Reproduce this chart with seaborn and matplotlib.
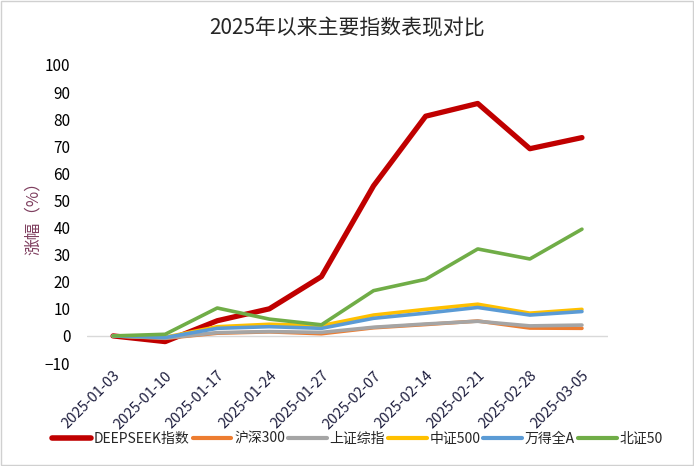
import pandas as pd
import numpy as np
import matplotlib
matplotlib.use('Agg')
import matplotlib.pyplot as plt
import seaborn as sns

# data
dates = ['2025-01-03', '2025-01-10', '2025-01-17', '2025-01-24', '2025-01-27',
         '2025-02-07', '2025-02-14', '2025-02-21', '2025-02-28', '2025-03-05']
deepseek = [0, -2.1, 5.6, 10.0, 21.9, 55.4, 81.1, 85.8, 69.1, 73.2]
hs300 = [0, -0.9, 1.0, 1.5, 0.8, 3.0, 4.2, 5.5, 2.9, 2.8]
szzz = [0, -0.8, 1.2, 1.6, 1.3, 3.2, 4.4, 5.4, 3.7, 4.0]
zz500 = [0, -0.5, 3.4, 4.3, 3.8, 7.7, 9.8, 11.7, 8.4, 9.8]
wdqa = [0, -0.6, 2.8, 3.4, 2.8, 6.5, 8.4, 10.5, 7.7, 9.0]
bz50 = [0, 0.6, 10.3, 6.2, 4.1, 16.7, 20.9, 32.1, 28.4, 39.4]

names = ['DEEPSEEK指数', '沪深300', '上证综指', '中证500', '万得全A', '北证50']
colors = ['#C00000', '#ED7D31', '#A5A5A5', '#FFC000', '#5B9BD5', '#70AD47']
series = [deepseek, hs300, szzz, zz500, wdqa, bz50]

df = pd.DataFrame({'date': dates * len(names),
                   'x': list(range(len(dates))) * len(names),
                   'index': np.repeat(names, len(dates)),
                   'value': np.concatenate(series)})

sns.set_style('white')
plt.rcParams['font.family'] = ['Noto Sans CJK SC', 'DejaVu Sans']

fig = plt.figure(figsize=(6.94, 4.66), dpi=100)
ax = fig.add_axes([87 / 694, 1 - 363 / 466, (608 - 87) / 694, (363 - 65) / 466])

sns.lineplot(data=df, x='x', y='value', hue='index', hue_order=names,
             palette=colors, linewidth=2.6, ax=ax, legend=True)
# thicker DEEPSEEK line
ax.get_lines()[0].set_linewidth(3.8)

ax.axhline(0, color='#D9D9D9', lw=1, zorder=0)
ax.set_xlim(-0.5, len(dates) - 0.5)
ax.set_ylim(-10, 100)
ax.set_yticks(range(-10, 101, 10))
ax.set_xticks(range(len(dates)))
ax.set_xticklabels(dates, rotation=45, ha='right', rotation_mode='anchor',
                   fontsize=10.5, color='#1F1F3F')
ax.tick_params(axis='y', labelsize=11, colors='#000000', length=0, pad=12)
ax.tick_params(axis='x', length=0, pad=4)
for s in ax.spines.values():
    s.set_visible(False)
ax.set_xlabel('')
ax.set_ylabel('涨幅（%）', fontsize=12, color='#7F3F5F', labelpad=2)

handles, labels = ax.get_legend_handles_labels()
for h, c in zip(handles, colors):
    h.set_linewidth(4 if c == '#C00000' else 3)
ax.legend(handles, labels, loc='center', bbox_to_anchor=(0.5 + 10 / 521, -0.255),
          ncol=6, frameon=False, fontsize=10, handlelength=2.8,
          handletextpad=0.2, columnspacing=0.2)

fig.suptitle('2025年以来主要指数表现对比', fontsize=15, y=1 - 28 / 466, va='center')

fig.patches.append(plt.Rectangle((0.002, 0.002), 0.996, 0.996, transform=fig.transFigure,
                                 fill=False, edgecolor='#D0D0D0', lw=1))

fig.savefig('out.png', dpi=100)
